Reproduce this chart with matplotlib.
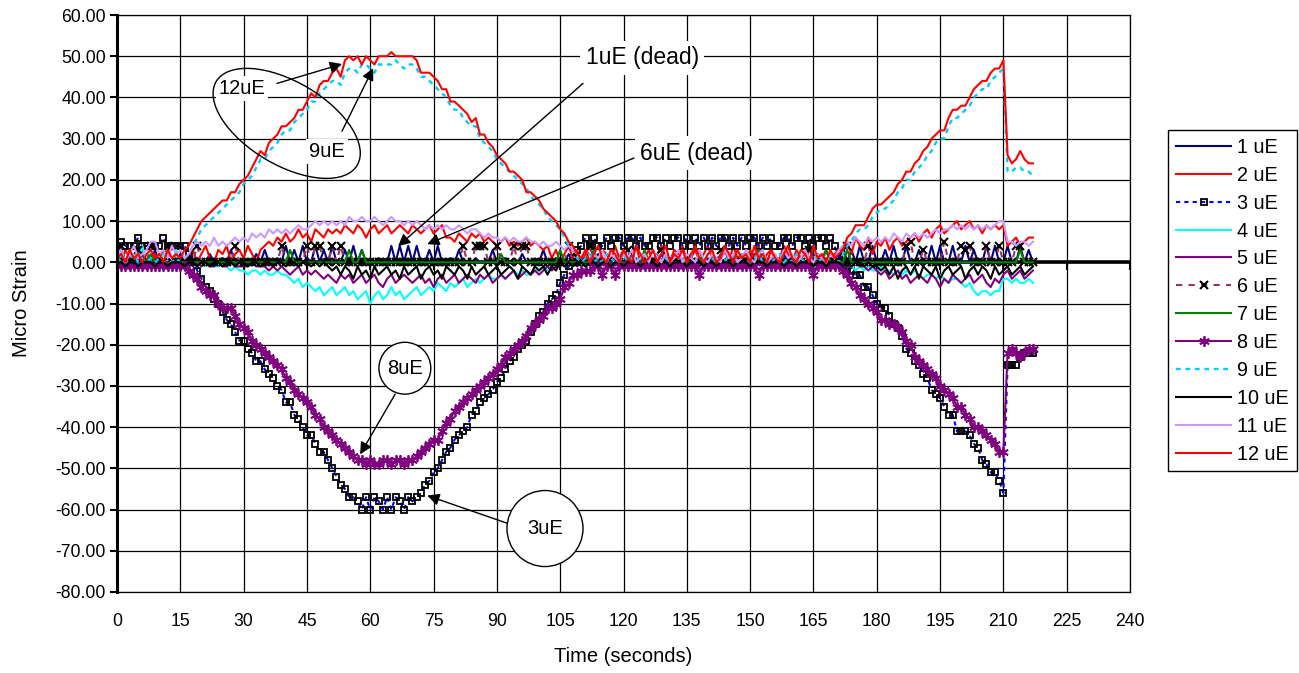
import numpy as np
import matplotlib
matplotlib.use("Agg")
import matplotlib.pyplot as plt
from matplotlib.patches import Ellipse
from matplotlib.transforms import ScaledTranslation

plt.rcParams['font.family'] = ['Liberation Sans', 'DejaVu Sans']

# ---------------- data (one reading per second, t = 0 .. 217 s) ----------------
time_s = list(range(0, 218))

s1 = [0,3,0,1,0,0,2,0,0,3,  0,0,1,0,0,2,0,0,0,1,  0,0,2,0,0,1,0,3,0,0,  1,0,0,2,0,3,0,0,1,0,
      4,0,3,0,4,0,0,4,0,3,  0,4,0,0,3,0,4,0,3,0,  0,0,1,0,0,4,0,4,0,4,  0,4,0,0,3,0,4,0,0,1,
      0,3,0,0,0,1,0,0,0,3,  0,0,1,0,0,0,2,0,0,0,  0,3,0,0,1,0,0,2,0,0,  0,1,0,0,2,0,0,0,1,0,
      0,0,2,0,0,1,0,0,0,2,  0,1,0,0,0,2,0,0,1,0,  0,0,1,0,0,0,2,0,0,1,  0,2,0,0,1,0,0,0,2,0,
      0,0,1,0,0,2,0,0,0,1,  0,0,4,0,3,0,4,0,0,4,  0,0,3,0,4,0,0,4,0,0,  3,0,0,4,0,4,0,0,4,0,
      0,4,0,3,0,0,4,0,4,0,  0,4,0,0,4,0,3,0]

s2 = [2,0,3,1,0,2,3,0,1,2,  0,3,1,0,2,1,0,1,3,0,  2,4,1,0,3,2,4,0,2,3,  1,4,2,0,3,4,5,4,6,5,
      7,5,6,8,6,7,5,8,7,6,  8,7,8,7,9,8,7,9,8,6,  8,9,7,8,9,7,8,9,8,7,  9,8,7,8,9,7,8,9,6,6,
      5,7,6,5,7,6,7,5,6,5,  4,5,6,4,5,4,5,6,4,5,  4,3,4,1,3,0,2,4,1,3,  0,2,4,1,0,3,2,0,4,1,
      3,0,2,4,0,1,3,0,2,4,  1,0,3,2,4,0,1,3,0,2,  4,1,0,2,3,0,4,1,2,0,  3,1,4,0,2,3,0,1,4,2,
      0,3,1,2,4,0,2,1,3,0,  2,3,3,5,2,6,4,3,6,2,  5,4,6,3,5,6,4,5,6,7,  5,7,8,6,8,9,7,8,9,10,
      8,9,10,8,9,7,9,8,9,8,  9,4,5,6,4,5,6,6]

s3 = [4,5,4,4,4,6,4,4,4,4,  4,6,4,4,4,4,4,2,0,-2,
      -4,-6,-7,-9,-10,-12,-14,-15,-17,-19,  -19,-21,-22,-24,-24,-26,-27,-28,-30,-31,
      -34,-34,-37,-38,-40,-42,-42,-44,-46,-46,  -48,-50,-52,-54,-55,-57,-57,-58,-60,-57,
      -60,-57,-58,-60,-57,-60,-57,-58,-60,-57,  -58,-57,-56,-54,-53,-51,-50,-48,-46,-45,
      -43,-42,-41,-40,-37,-36,-34,-33,-32,-31,  -29,-28,-26,-24,-23,-21,-20,-19,-17,-15,
      -13,-12,-10,-9,-8,-5,-3,-1,1,3,  4,6,4,6,4,4,6,4,6,6,  4,6,6,4,6,4,4,6,6,4,
      6,4,6,6,4,6,4,6,4,6,  4,6,4,6,6,4,6,4,6,4,  6,6,4,6,4,6,4,4,6,6,  4,6,6,4,6,4,6,6,4,6,
      4,1,-1,-2,-2,-3,-3,-6,-6,-8,  -10,-11,-11,-13,-15,-16,-18,-21,-22,-24,
      -25,-27,-28,-31,-32,-33,-35,-37,-37,-41,  -41,-41,-42,-44,-45,-48,-49,-51,-51,-53,
      -56,-25,-25,-25,-23,-22,-22,-22]

s4 = [0,2,0,3,-1,0,4,0,1,-1,  0,2,0,-1,3,0,0,-1,0,-1,  0,-1,0,-1,-1,0,-1,-2,-1,-2,
      -2,-3,-2,-2,-3,-2,-3,-3,-2,-3,  -3,-4,-5,-4,-6,-5,-6,-7,-6,-8,  -7,-6,-8,-7,-6,-8,-7,-9,-8,-7,
      -10,-8,-7,-9,-8,-6,-8,-7,-9,-8,  -7,-6,-8,-7,-6,-7,-5,-6,-7,-5,  -6,-5,-4,-6,-5,-4,-5,-4,-3,-4,
      -4,-3,-4,-3,-2,-3,-2,-3,-3,-2,  -2,-1,-2,-1,-1,0,-1,0,-1,0,  0,-1,0,0,-1,0,0,-1,0,0,
      -1,0,0,-1,0,0,-1,0,0,-1,  0,0,-1,0,0,-1,0,0,-1,0,  0,-1,0,0,-1,0,0,-1,0,0,
      -1,0,0,-1,0,0,-1,0,0,-1,  0,0,-1,0,0,-1,0,0,-1,0,  0,-1,0,-1,-1,-2,-1,-2,-1,-2,
      -2,-1,-2,-2,-3,-2,-3,-2,-3,-2,  -3,-4,-3,-3,-4,-3,-4,-5,-4,-4,  -5,-6,-5,-7,-8,-7,-7,-8,-7,-7,
      -4,-4,-5,-4,-5,-5,-4,-5]

s5 = [0,-1,0,0,-1,0,0,-1,0,0,  -1,0,0,-1,0,0,-1,0,-1,0,  -1,0,-1,-1,0,-1,-1,0,-1,-1,
      -1,-1,0,-1,-1,-1,-2,-1,-2,-1,  -2,-3,-2,-1,-3,-2,-3,-2,-3,-4,  -3,-4,-5,-3,-4,-3,-5,-4,-3,-5,
      -4,-3,-5,-6,-4,-3,-5,-4,-3,-4,  -5,-4,-3,-5,-4,-6,-4,-3,-5,-4,  -3,-5,-4,-3,-4,-5,-3,-4,-3,-5,
      -4,-3,-4,-3,-2,-4,-3,-2,-3,-2,  -3,-2,-1,-2,-1,-1,0,-1,0,-1,  0,-1,0,0,-1,0,-1,0,0,-1,
      0,0,-1,0,-1,0,0,-1,0,0,  -1,0,0,-1,0,0,-1,0,-1,0,  0,-1,0,0,-1,0,0,-1,0,0,
      -1,0,0,-1,0,-1,0,0,-1,0,  0,-1,0,0,-1,0,0,-1,0,-1,  0,-1,0,-1,-1,0,-1,-1,-2,-1,
      -2,-3,-2,-4,-3,-2,-4,-3,-5,-4,  -3,-4,-5,-3,-4,-6,-4,-5,-3,-4,  -5,-4,-3,-5,-4,-3,-5,-6,-4,-5,
      -3,-2,-4,-3,-2,-4,-3,-2]

s6 = [0,4,0,0,0,3,0,0,4,0,  0,0,4,0,0,0,0,0,0,4,  0,0,0,0,0,0,0,0,4,0,  0,0,0,0,0,0,0,0,0,4,
      0,0,0,0,0,4,0,4,4,0,  0,4,0,4,0,0,0,0,0,0,  0,0,0,0,0,0,0,0,0,0,  0,0,0,0,0,0,0,0,0,0,
      0,0,4,0,0,4,4,4,0,0,  4,0,0,0,4,0,4,4,0,0,  0,0,0,0,0,0,0,4,0,0,  0,0,4,0,0,0,0,0,0,0,
      0,3,0,0,0,0,0,0,0,3,  0,0,0,0,0,0,0,0,0,0,  0,0,0,3,0,0,0,0,0,0,  0,0,0,0,0,0,0,0,0,0,
      0,0,0,0,3,0,0,0,0,0,  0,0,0,4,0,0,0,0,4,0,  0,0,0,0,0,0,0,4,5,0,  0,3,0,0,0,0,5,0,0,0,
      4,3,4,0,0,0,4,0,0,4,  0,0,0,4,4,0,0,0]

s7 = [0,0,0,0,0,0,0,0,2,0,  0,0,0,0,0,0,0,0,0,0,  0,0,0,0,0,0,0,0,0,0,  0,0,0,0,0,0,0,0,0,0,
      0,3,0,0,0,0,0,0,0,0,  0,0,0,0,0,3,0,0,3,0,  0,0,0,0,0,0,0,0,0,0,  0,0,0,0,0,0,0,0,0,0,
      0,0,0,0,0,0,0,0,0,0,  0,2,0,0,0,0,0,0,0,0,  0,0,0,0,0,3,0,0,0,0,  0,0,0,3,0,0,0,0,0,0,
      0,0,0,0,0,3,0,0,0,0,  0,0,0,0,0,0,0,0,3,0,  0,0,0,0,0,0,0,0,0,0,  0,0,3,0,0,0,0,0,0,0,
      0,0,0,0,0,0,0,0,3,0,  0,0,0,3,0,0,0,0,0,0,  0,0,0,0,0,0,0,0,0,0,  0,0,0,0,0,0,0,0,0,0,
      0,0,0,0,0,0,0,0,0,0,  0,0,0,0,3,0,0,0]

s8 = [-1,-1,-1,-1,-1,-1,-1,-1,-1,-1,  -1,-1,-1,-1,-1,-1,-1,-2,-3,-4,
      -6,-7,-8,-8,-10,-11,-11,-11,-13,-15,  -16,-17,-19,-20,-21,-22,-23,-24,-25,-26,
      -28,-29,-31,-32,-33,-34,-35,-37,-38,-40,  -41,-42,-43,-44,-45,-46,-47,-48,-48,-49,
      -48,-49,-49,-48,-48,-49,-48,-48,-49,-48,  -48,-47,-46,-45,-44,-43,-43,-41,-39,-38,
      -36,-35,-34,-33,-32,-31,-30,-29,-28,-27,  -26,-25,-23,-22,-21,-20,-19,-18,-16,-15,
      -14,-13,-11,-11,-10,-9,-6,-5,-3,-3,  -2,-2,-2,-1,-1,-3,-1,-1,-3,-1,
      -1,-1,-1,-1,-1,-1,-1,-1,-1,-1,  -1,-1,-1,-1,-1,-1,-1,-1,-3,-1,  -1,-1,-1,-1,-1,-1,-1,-1,-1,-1,
      -1,-1,-3,-1,-1,-1,-1,-1,-1,-1,  -1,-1,-1,-1,-1,-3,-1,-1,-1,-1,
      -1,-1,-2,-3,-5,-6,-8,-9,-10,-11,  -12,-14,-14,-15,-15,-16,-17,-19,-20,-23,
      -24,-25,-26,-27,-28,-30,-31,-32,-33,-35,  -35,-37,-38,-40,-40,-41,-42,-43,-44,-46,
      -46,-22,-21,-22,-23,-22,-21,-21]

s9 = [0,1,0,1,2,0,1,0,1,0,  1,0,2,0,1,0,1,2,4,6,  8,9,10,11,12,13,14,15,16,17,
      19,20,21,23,25,25,27,28,29,31,  32,32,34,35,36,37,39,39,41,42,  43,44,44,43,46,47,47,46,48,48,
      47,46,48,48,48,48,49,48,47,48,  48,47,45,45,44,43,42,41,40,38,  37,37,35,34,33,33,30,29,28,27,
      25,24,23,22,21,20,19,18,16,15,  14,13,11,10,9,8,6,4,3,1,  0,1,2,0,1,0,2,1,0,1,
      2,0,1,0,2,1,0,1,2,0,  1,0,2,1,0,1,2,0,1,0,  2,1,0,1,0,2,1,0,2,1,  0,1,2,0,1,0,1,2,0,1,
      0,2,1,0,1,2,0,1,0,2,  1,0,2,4,5,7,8,8,9,11,  12,13,13,14,15,17,18,20,20,22,
      23,24,26,27,29,30,30,33,35,35,  36,37,38,40,41,42,42,44,45,46,
      47,22,22,23,23,22,22,21]

s10 = [0,0,-1,0,0,-1,0,0,0,-1,  0,0,-1,0,0,0,-1,0,0,-1,  0,0,-1,0,0,-1,0,0,-1,0,
       0,-1,0,0,-1,0,0,-1,0,0,  -1,0,0,-1,0,0,-1,0,-1,0,  -1,-2,-1,-3,-1,-2,-4,-1,-3,-2,
       -4,-1,-3,-2,-1,-3,-2,-4,-1,-3,  -2,-1,-4,-2,-1,-3,-2,-4,-1,-2,  -3,-1,-2,-4,-1,-3,-2,-1,-3,-2,
       -1,-3,-2,-1,-2,-4,-1,-2,-3,-1,  -2,-1,-3,-1,-2,0,-1,0,-1,0,  0,-1,0,0,-1,0,0,-1,0,0,
       -1,0,0,0,-1,0,0,0,-1,0,  0,-1,0,0,0,-1,0,0,0,-1,  0,0,-1,0,0,0,-1,0,0,0,
       -1,0,0,0,-1,0,0,0,-1,0,  0,-1,0,0,0,-1,0,0,-1,0,  0,0,-1,0,-1,0,0,-1,0,-1,
       -1,-2,-1,-3,-1,-4,-2,-1,-3,-1,  -4,-1,-2,-3,-1,-4,-2,-1,-3,-2,  -1,-4,-2,-1,-3,-1,-2,-4,-1,-3,
       -2,-1,-3,-2,-1,-3,-2,-1]

s11 = [1,3,0,2,4,1,2,3,5,5,  2,3,1,4,2,3,1,2,4,5,  4,5,4,6,4,5,4,5,6,5,  6,5,7,6,7,6,8,7,8,7,
       8,7,8,9,8,8,9,10,9,10,  9,10,9,10,9,11,10,10,11,10,  10,11,10,9,10,11,10,10,9,10,
       9,10,9,8,9,8,9,8,9,8,  8,9,8,7,8,8,7,6,7,6,  6,5,6,5,6,5,5,6,5,5,  4,5,4,4,5,4,3,4,3,2,
       1,3,0,2,1,3,0,2,1,0,  2,1,3,0,1,2,0,3,1,0,  2,0,1,3,0,2,1,0,3,1,  0,2,1,0,3,1,2,0,1,3,
       1,0,2,3,0,1,2,0,3,1,  2,0,1,3,1,0,2,1,0,2,  1,3,4,5,4,6,5,4,6,5,  6,5,6,5,7,6,5,7,6,7,
       6,7,6,7,8,7,8,8,9,8,  9,8,9,8,9,8,9,8,9,10,  10,5,5,4,5,5,4,5]

s12 = [1,2,0,3,1,2,0,2,3,1,  2,0,3,1,2,1,3,4,6,8,  10,11,12,13,14,15,15,17,17,19,
       20,21,23,25,27,26,29,30,31,33,  33,34,35,37,37,39,41,40,43,44,  44,46,47,45,49,50,49,50,48,50,
       49,48,50,50,50,51,50,50,50,50,  50,49,46,46,46,45,44,42,42,39,  39,38,37,36,34,35,31,31,29,28,
       26,25,24,22,22,21,20,17,17,16,  15,13,12,11,10,8,7,5,4,2,  1,3,0,2,4,1,0,3,2,0,
       3,1,0,4,2,0,1,3,0,2,  4,0,2,1,3,0,2,4,1,0,  2,3,0,1,4,2,0,3,1,2,  0,4,1,2,0,3,1,0,2,4,
       1,0,3,2,0,4,1,2,0,3,  1,2,3,6,7,9,9,9,11,13,  14,14,15,16,17,19,20,22,22,24,
       25,27,28,30,31,32,32,35,37,37,  38,38,40,42,43,44,44,46,47,47,
       49,26,24,25,27,25,24,24]

series_names = ['1 uE', '2 uE', '3 uE', '4 uE', '5 uE', '6 uE',
                '7 uE', '8 uE', '9 uE', '10 uE', '11 uE', '12 uE']
series_values = [s1, s2, s3, s4, s5, s6, s7, s8, s9, s10, s11, s12]

x_ticks = list(range(0, 241, 15))
y_ticks = list(range(-80, 61, 10))

# ---------------- styles ----------------
styles = [
    dict(color='#000080', lw=1.5),
    dict(color='#FF0000', lw=1.5),
    dict(color='#0000FF', lw=1.5, ls=(0, (2, 2)), marker='s', ms=4.6,
         mfc='none', mec='black', mew=1.3),
    dict(color='#00FFFF', lw=1.5),
    dict(color='#800080', lw=1.5),
    dict(color='#993366', lw=1.5, ls=(0, (3, 3)), marker='x', ms=6,
         mec='black', mew=1.5),
    dict(color='#008000', lw=1.5),
    dict(color='#800080', lw=1.5, marker=(6, 2, 0), ms=7.5, mec='#800080', mew=1.3),
    dict(color='#00CCFF', lw=1.7, ls=(0, (2, 2))),
    dict(color='#000000', lw=1.5),
    dict(color='#CC99FF', lw=1.5),
    dict(color='#FF0000', lw=1.5),
]

# ---------------- figure ----------------
W, H = 1299, 673
fig = plt.figure(figsize=(W / 100, H / 100), dpi=100)
ax = fig.add_axes([117 / W, 1 - 592 / H, (1130 - 117) / W, (592 - 15) / H])

ax.set_xlim(0, 240)
ax.set_ylim(-80, 60)
ax.set_xticks(x_ticks)
ax.set_yticks(y_ticks)
ax.set_yticklabels([f"{v:.2f}" for v in y_ticks])
ax.set_axisbelow(True)
ax.grid(True, color='#000000', lw=0.9)

for side in ['top', 'right', 'bottom']:
    ax.spines[side].set_color('#000000')
    ax.spines[side].set_linewidth(0.9)
ax.spines['left'].set_linewidth(2.2)

ax.tick_params(axis='x', length=0, pad=15, labelsize=12.7)
ax.tick_params(axis='y', direction='out', length=5, width=1.5, pad=3, labelsize=12.7)

# horizontal axis line at zero with downward tick marks
ax.axhline(0, color='black', lw=2.6, zorder=1.5)
ax.plot(x_ticks, [0] * len(x_ticks), ls='none', marker=3, ms=6, mew=1.5,
        color='black', clip_on=False, zorder=1.5)

handles = []
for name, vals, st in zip(series_names, series_values, styles):
    h, = ax.plot(time_s, vals, label=name, zorder=2, **st)
    handles.append(h)

ax.set_xlabel('Time (seconds)', fontsize=14.5)
ax.set_ylabel('Micro Strain', fontsize=14.5)
ax.xaxis.set_label_coords(0.5, -0.095)
ax.yaxis.set_label_coords(-0.085, 0.5)

leg = fig.legend(handles=handles, loc='upper left',
                 bbox_to_anchor=(1168 / W, 1 - 130 / H), fontsize=14.2,
                 frameon=True, fancybox=False, edgecolor='black', framealpha=1,
                 numpoints=1, handlelength=2.8, handletextpad=0.3,
                 borderpad=0.4, labelspacing=0.45, borderaxespad=0)
leg.get_frame().set_linewidth(1.0)

# ---------------- annotations ----------------
afs = 14.5
dfs = 16.5
arrow = dict(arrowstyle='-|>', color='black', lw=1.0, shrinkA=0, shrinkB=0,
             mutation_scale=18)
white = dict(boxstyle='square,pad=0.15', fc='white', ec='none')

# 12uE / 9uE ellipse
ell_tr = fig.dpi_scale_trans + ScaledTranslation(40.2, 33.7, ax.transData)
fig.add_artist(Ellipse((0, 0), 1.64, 0.83, angle=-30.7, fill=False,
                       ec='black', lw=1.0, transform=ell_tr, zorder=5))
ax.text(29.6, 42.2, '12uE', fontsize=afs, ha='center', va='center', bbox=white, zorder=5)
ax.text(49.8, 26.9, '9uE', fontsize=afs, ha='center', va='center', bbox=white, zorder=5)
ax.annotate('', xy=(53.3, 48.1), xytext=(37.9, 43.4), arrowprops=arrow, zorder=6)
ax.annotate('', xy=(60.7, 47.1), xytext=(53.3, 31.8), arrowprops=arrow, zorder=6)

# dead gauges
ax.text(124.4, 49.6, '1uE (dead)', fontsize=dfs, ha='center', va='center',
        bbox=dict(boxstyle='square,pad=0.25', fc='white', ec='none'), zorder=5)
ax.annotate('', xy=(66.6, 3.9), xytext=(110.4, 43.4), arrowprops=arrow, zorder=6)
ax.text(137.4, 26.5, '6uE (dead)', fontsize=dfs, ha='center', va='center',
        bbox=dict(boxstyle='square,pad=0.25', fc='white', ec='none'), zorder=5)
ax.annotate('', xy=(73.5, 4.4), xytext=(122.5, 25.3), arrowprops=arrow, zorder=6)

# 8uE and 3uE circles
ax.text(68.2, -25.7, '8uE', fontsize=afs, ha='center', va='center',
        bbox=dict(boxstyle='circle,pad=0.4', fc='white', ec='black', lw=1.0), zorder=5)
ax.annotate('', xy=(57.6, -46.6), xytext=(65.9, -32.0), arrowprops=arrow, zorder=6)
ax.text(101.4, -64.6, '3uE', fontsize=afs, ha='center', va='center',
        bbox=dict(boxstyle='circle,pad=1.0', fc='white', ec='black', lw=1.0), zorder=5)
ax.annotate('', xy=(73.5, -56.6), xytext=(92.4, -63.3), arrowprops=arrow, zorder=4)

fig.savefig('out.png', dpi=100)
